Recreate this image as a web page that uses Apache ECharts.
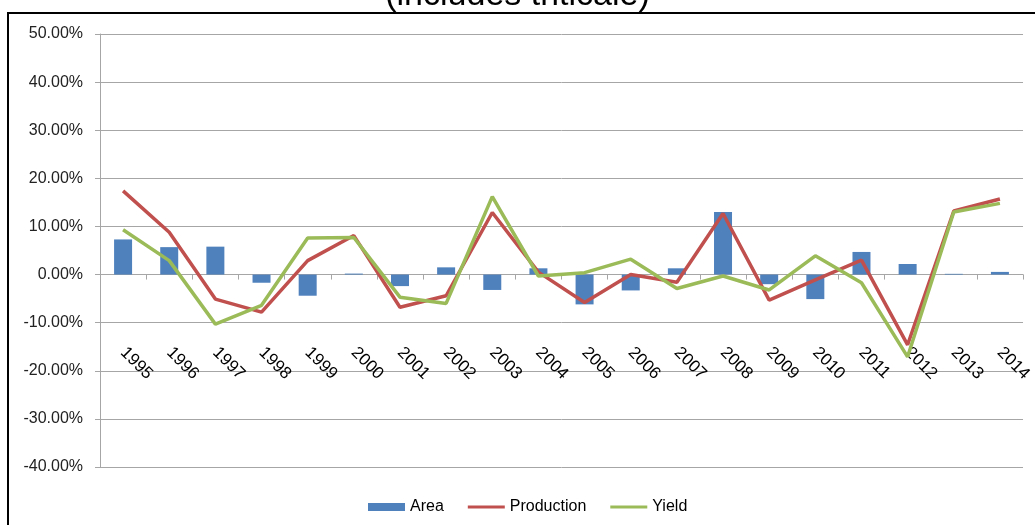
<!DOCTYPE html>
<html>
<head>
<meta charset="utf-8">
<script src="https://cdn.jsdelivr.net/npm/echarts@6/dist/echarts.min.js"></script>
<style>
  html, body { margin: 0; padding: 0; background: #fff; }
  #myChart { width: 1035px; height: 525px; }
</style>
</head>
<body>
<div id="myChart"></div>
<script>
// years on the x axis
const years = ['1995', '1996', '1997', '1998', '1999', '2000', '2001', '2002', '2003', '2004',
  '2005', '2006', '2007', '2008', '2009', '2010', '2011', '2012', '2013', '2014'];
// yearly change, in percent
const area = [7.3, 5.7, 5.8, -1.7, -4.4, 0.2, -2.4, 1.5, -3.2, 1.3,
  -6.2, -3.3, 1.3, 13.0, -2.0, -5.1, 4.7, 2.2, 0.15, 0.55];
const production = [17.4, 8.8, -5.1, -7.8, 2.9, 8.1, -6.8, -4.4, 12.9, 0.5,
  -5.8, 0.0, -1.6, 12.7, -5.3, -1.1, 3.0, -14.6, 13.2, 15.7];
const yieldPct = [9.3, 2.9, -10.3, -6.4, 7.6, 7.7, -4.7, -6.0, 16.2, -0.3,
  0.4, 3.2, -2.9, -0.3, -3.2, 3.9, -1.7, -17.1, 13.0, 14.8];
// y axis range
const yMin = -40, yMax = 50, yStep = 10;

let myChart = echarts.init(document.getElementById('myChart'));
const font = '"Liberation Sans", Arial, sans-serif';
const gridColor = '#a6a6a6';
const lineIcon = 'path://M0,0 H37 V3 H0 Z';

myChart.setOption({
  animation: false,
  textStyle: { fontFamily: font },
  title: {
    text: '(includes triticale)',
    left: 'center',
    top: -26,
    textStyle: { fontSize: 34, fontWeight: 'normal', color: '#000', fontFamily: font }
  },
  // outer chart frame (partly cut off like the source)
  graphic: [{
    type: 'rect',
    shape: { x: 8, y: 13, width: 1200, height: 800 },
    style: { fill: 'none', stroke: '#000', lineWidth: 2 },
    silent: true
  }],
  legend: {
    data: [
      { name: 'Area', icon: 'rect' },
      { name: 'Production', icon: lineIcon },
      { name: 'Yield', icon: lineIcon }
    ],
    left: 363,
    top: 494,
    itemWidth: 37,
    itemHeight: 8,
    itemGap: 24,
    textStyle: { fontSize: 16, color: '#000', fontFamily: font }
  },
  grid: { left: 100, right: 12, top: 34, bottom: 58, containLabel: false, outerBoundsMode: 'none' },
  xAxis: {
    type: 'category',
    data: years,
    axisLine: { onZero: true, lineStyle: { color: gridColor, width: 1 } },
    axisTick: { show: true, length: 5, lineStyle: { color: gridColor } },
    axisLabel: {
      show: true,
      interval: 0,
      hideOverlap: false,
      rotate: -45,
      margin: -117,
      fontSize: 17,
      color: '#000',
      fontFamily: font
    }
  },
  yAxis: {
    type: 'value',
    min: yMin,
    max: yMax,
    interval: yStep,
    axisLine: { show: true, lineStyle: { color: gridColor } },
    axisTick: { show: true, length: 5, lineStyle: { color: gridColor } },
    splitLine: { lineStyle: { color: gridColor, width: 1 } },
    axisLabel: {
      margin: 17,
      fontSize: 16,
      color: '#222',
      fontFamily: font,
      formatter: v => v.toFixed(2) + '%'
    }
  },
  series: [
    {
      name: 'Area',
      type: 'bar',
      barWidth: 18,
      itemStyle: { color: '#4f81bd' },
      data: area
    },
    {
      name: 'Production',
      type: 'line',
      symbol: 'none',
      lineStyle: { color: '#c0504d', width: 3.5 },
      itemStyle: { color: '#c0504d' },
      data: production
    },
    {
      name: 'Yield',
      type: 'line',
      symbol: 'none',
      lineStyle: { color: '#9bbb59', width: 3.5 },
      itemStyle: { color: '#9bbb59' },
      data: yieldPct
    }
  ]
});
</script>
</body>
</html>
